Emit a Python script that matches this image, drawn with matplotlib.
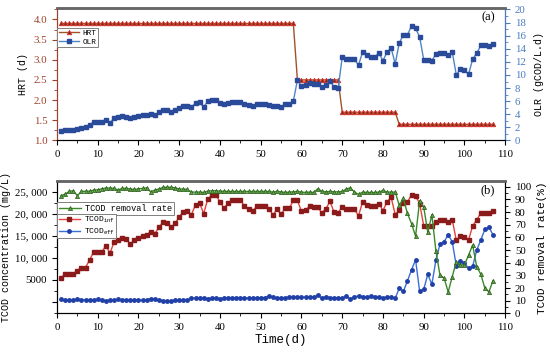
import numpy as np
import matplotlib
matplotlib.use("Agg")
import matplotlib.pyplot as plt
from matplotlib.ticker import MultipleLocator, FuncFormatter

plt.rcParams['font.family'] = ['Liberation Serif', 'DejaVu Serif']
plt.rcParams['mathtext.fontset'] = 'custom'
plt.rcParams['mathtext.rm'] = 'Liberation Mono'
plt.rcParams['mathtext.it'] = 'Liberation Mono'
MONO = ['Liberation Mono', 'DejaVu Sans Mono']

days = np.arange(1, 108)

hrt = [3.9] * 58 + [2.5] * 11 + [1.7] * 14 + [1.4] * 24

olr = [1.4, 1.6, 1.6, 1.6, 1.7, 1.9, 2.0, 2.4, 2.8, 2.8,
       2.8, 3.2, 2.7, 3.4, 3.6, 3.8, 3.6, 3.4, 3.6, 3.7,
       3.9, 3.9, 4.1, 3.9, 4.3, 4.6, 4.6, 4.3, 4.7, 5.0,
       5.2, 5.3, 5.1, 5.7, 5.8, 5.1, 6.0, 6.2, 6.2, 5.7,
       5.5, 5.7, 5.9, 5.9, 5.9, 5.5, 5.4, 5.3, 5.5, 5.5,
       5.5, 5.4, 5.2, 5.3, 5.1, 5.5, 5.5, 6.0, 9.2, 8.3,
       8.4, 8.7, 8.6, 8.6, 8.1, 8.5, 9.1, 8.1, 8.0, 12.7,
       12.4, 12.4, 12.4, 11.5, 13.5, 13.0, 12.8, 12.8, 13.3, 12.2,
       13.5, 14.1, 11.7, 14.9, 16.1, 16.1, 17.5, 17.1, 15.8, 12.3,
       12.3, 12.2, 13.2, 13.4, 13.4, 13.0, 13.5, 10.0, 10.9, 10.7,
       10.1, 12.4, 13.3, 14.5, 14.5, 14.4, 14.8]

tcod_inf = [5450, 6200, 6200, 6360, 7050, 7730, 7730, 9470, 11290, 11290,
            11290, 12700, 11000, 13500, 14000, 14500, 14200, 13100, 13900, 14400,
            15000, 15200, 15900, 15400, 16900, 18000, 17800, 16900, 17800, 19300,
            20400, 20500, 19800, 22000, 22400, 20000, 23300, 24200, 24200, 22700,
            21200, 22400, 23000, 23000, 23000, 21800, 21100, 20500, 21700, 21700,
            21700, 21100, 19700, 21000, 19900, 21200, 21200, 23000, 23000, 20500,
            20800, 21700, 21400, 21400, 20200, 21100, 22800, 20300, 20200, 21600,
            21100, 21100, 21000, 19500, 22700, 21900, 21700, 21700, 22300, 20700,
            22700, 23700, 19800, 20800, 22500, 22600, 24300, 24000, 22300, 17200,
            17200, 17200, 18000, 18600, 18600, 18200, 18600, 13900, 14900, 14800,
            14000, 17200, 18600, 20100, 20100, 20100, 20500]

tcod_eff = [500, 400, 300, 300, 600, 400, 400, 400, 400, 500,
            300, 200, 300, 300, 500, 300, 300, 400, 400, 400,
            300, 400, 700, 500, 400, 200, 200, 200, 300, 300,
            400, 400, 800, 800, 800, 800, 700, 800, 800, 700,
            800, 800, 800, 900, 900, 800, 800, 800, 900, 900,
            900, 1300, 1000, 900, 800, 900, 1000, 1000, 1000, 1000,
            1000, 1100, 1000, 1400, 800, 1100, 900, 800, 800, 800,
            1200, 600, 1100, 1300, 1100, 1100, 1200, 1100, 1100, 800,
            1000, 1000, 800, 3000, 2300, 4700, 7200, 9500, 2300, 2800,
            6200, 3900, 9500, 13100, 13600, 15200, 13600, 8100, 9300, 8700,
            7600, 8000, 11700, 14000, 16400, 16900, 15200]

removal = [93.0, 94.2, 96.3, 96.9, 93.0, 96.3, 96.5, 96.5, 97.4, 97.6,
           98.4, 99.0, 99.0, 98.7, 97.4, 98.7, 98.7, 98.2, 97.9, 98.4,
           98.7, 99.2, 96.0, 97.4, 98.2, 99.5, 99.7, 99.5, 99.2, 98.2,
           98.2, 97.9, 95.8, 95.8, 95.8, 95.5, 96.5, 96.9, 96.9, 96.5,
           96.5, 96.3, 96.3, 96.3, 96.3, 96.3, 96.3, 96.3, 96.3, 96.3,
           96.3, 96.3, 95.8, 96.3, 96.0, 95.5, 95.8, 96.0, 96.3, 95.8,
           95.5, 95.8, 95.5, 98.4, 96.5, 96.0, 96.3, 96.0, 96.0, 96.3,
           98.2, 99.2, 95.8, 94.0, 95.8, 95.5, 95.5, 95.5, 95.8, 97.1,
           95.8, 95.8, 95.8, 85.3, 90.8, 79.0, 71.0, 61.0, 89.0, 84.0,
           64.0, 78.0, 49.0, 30.0, 28.0, 17.0, 29.0, 41.0, 38.0, 38.5,
           46.0, 54.0, 37.0, 31.0, 20.0, 17.0, 26.0]

fig = plt.figure(figsize=(5.5, 3.53), dpi=100)
ax1 = fig.add_axes([0.1036, 0.602, 0.815, 0.375])
ax3 = fig.add_axes([0.1036, 0.112, 0.815, 0.375])

brown = '#a0402a'
blue_ax = '#4a7cc0'
tfs = 7.8


def leg(ax, handles, labels, anchor, size, hl=2.3):
    lg = ax.legend(handles, labels, loc='upper left', bbox_to_anchor=anchor,
                   prop={'family': MONO, 'size': size}, frameon=True, fancybox=False,
                   edgecolor='#808080', handlelength=hl, borderpad=0.2,
                   labelspacing=0.15, handletextpad=0.5, borderaxespad=0,
                   framealpha=1)
    lg.get_frame().set_linewidth(0.7)
    return lg


# ---- panel (a)
ax1.plot(days, hrt, color='#a0522d', lw=1.0, marker='^', ms=3.2,
         mfc='#7a3010', mec='#e03030', mew=0.6, label='HRT', zorder=3)
ax1.set_xlim(0, 110)
ax1.set_ylim(1.0, 4.28)
ax1.yaxis.set_major_locator(MultipleLocator(0.5))
ax1.yaxis.set_minor_locator(MultipleLocator(0.25))
ax1.set_ylabel('HRT (d)', fontsize=7.2, family=MONO, labelpad=4)
ax1.tick_params(axis='y', which='both', colors=brown, labelsize=tfs)
ax1.spines['left'].set_color(brown)

ax2 = ax1.twinx()
ax2.plot(days, olr, color='#4f86c6', lw=1.0, marker='s', ms=2.4,
         mfc='#2a4a9a', mec='#2a4a9a', label='OLR', zorder=2)
ax2.set_ylim(0, 20.2)
ax2.yaxis.set_major_locator(MultipleLocator(2))
ax2.yaxis.set_minor_locator(MultipleLocator(1))
ax2.set_ylabel('OLR (gCOD/L.d)', fontsize=7.2, family=MONO, labelpad=6)
ax2.tick_params(axis='y', which='both', colors=blue_ax, labelsize=tfs)
ax2.spines['right'].set_color(blue_ax)
ax2.spines['left'].set_color(brown)
ax2.text(0.978, 0.93, '(a)', transform=ax2.transAxes, ha='right', va='center', fontsize=9)

h1, l1 = ax1.get_legend_handles_labels()
h2, l2 = ax2.get_legend_handles_labels()
leg(ax2, h1 + h2, l1 + l2, (0.0, 0.85), 5.6, hl=2.6)

# ---- panel (b)
ax3.plot(days, tcod_inf, color='#e8403a', lw=1.0, marker='s', ms=2.5,
         mfc='#8b1a1a', mec='#8b1a1a', label='TCOD$_{inf}$', zorder=3)
ax3.plot(days, tcod_eff, color='#3a6fd8', lw=1.0, marker='o', ms=2.5,
         mfc='#2040a8', mec='#2040a8', label='TCOD$_{eff}$', zorder=3)
ax3.set_xlim(0, 110)
ax3.set_ylim(-2700, 27400)
ax3.yaxis.set_major_locator(MultipleLocator(5000))
ax3.yaxis.set_minor_locator(MultipleLocator(2500))


def conc_fmt(v, pos):
    if abs(v) < 1:
        return ''
    if v < 10000:
        return '%d' % v
    return '{:,}'.format(int(v)).replace(',', ', ')


ax3.yaxis.set_major_formatter(FuncFormatter(conc_fmt))
ax3.set_ylabel('TCOD concentration (mg/L)', fontsize=7.2, family=MONO, labelpad=3)
ax3.tick_params(axis='y', which='both', labelsize=tfs)
ax3.set_xlabel('Time(d)', fontsize=9, family=MONO, labelpad=1)

ax4 = ax3.twinx()
ax4.plot(days, removal, color='#3a8a2a', lw=1.0, marker='^', ms=3.0,
         mfc='#5aa040', mec='#2a5a1a', mew=0.5, label='TCOD removal rate', zorder=2)
ax4.set_ylim(0, 104.5)
ax4.yaxis.set_major_locator(MultipleLocator(10))
ax4.yaxis.set_minor_locator(MultipleLocator(5))
ax4.set_ylabel('TCOD removal rate(%)', fontsize=8, family=MONO, labelpad=4)
ax4.tick_params(axis='y', which='both', labelsize=tfs)
ax4.text(0.978, 0.93, '(b)', transform=ax4.transAxes, ha='right', va='center', fontsize=9)

h3, l3 = ax3.get_legend_handles_labels()
h4, l4 = ax4.get_legend_handles_labels()
lg1 = leg(ax4, h4, l4, (0.0, 0.84), 6.2, hl=2.6)
ax4.add_artist(lg1)
leg(ax4, h3, l3, (0.0, 0.755), 5.8, hl=2.6)

for ax in (ax1, ax3):
    ax.xaxis.set_major_locator(MultipleLocator(10))
    ax.xaxis.set_minor_locator(MultipleLocator(5))
    ax.tick_params(axis='x', which='both', labelsize=tfs)

for ax in (ax1, ax2, ax3, ax4):
    ax.tick_params(which='major', direction='out', length=3.5, width=0.8)
    ax.tick_params(which='minor', direction='out', length=2, width=0.6)
    ax.spines['top'].set_color('#666666')
    ax.spines['top'].set_linewidth(1.8)

fig.savefig('out.png', dpi=100)
